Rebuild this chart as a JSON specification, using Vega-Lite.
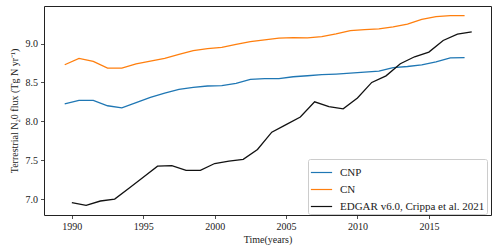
{
  "$schema": "https://vega.github.io/schema/vega-lite/v6.json",
  "autosize": "none",
  "width": 447,
  "height": 209,
  "padding": {"left": 44, "top": 6, "right": 9, "bottom": 36},
  "background": "white",
  "config": {
    "font": "Liberation Serif",
    "view": {"stroke": "#222", "strokeWidth": 1},
    "axis": {"grid": false, "domain": false, "tickColor": "#222", "tickSize": 3.5, "tickWidth": 0.8, "labelFont": "Liberation Serif", "labelFontSize": 10, "labelColor": "#222", "titleFont": "Liberation Serif", "titleFontSize": 10, "titleFontWeight": "normal", "titleColor": "#222", "labelPadding": 3}
  },
  "data": {"values": [
    {"year": 1989.5, "v": 8.223, "s": "CNP"},
    {"year": 1990.5, "v": 8.27, "s": "CNP"},
    {"year": 1991.5, "v": 8.27, "s": "CNP"},
    {"year": 1992.5, "v": 8.2, "s": "CNP"},
    {"year": 1993.5, "v": 8.172, "s": "CNP"},
    {"year": 1994.5, "v": 8.24, "s": "CNP"},
    {"year": 1995.5, "v": 8.308, "s": "CNP"},
    {"year": 1996.5, "v": 8.364, "s": "CNP"},
    {"year": 1997.5, "v": 8.41, "s": "CNP"},
    {"year": 1998.5, "v": 8.436, "s": "CNP"},
    {"year": 1999.5, "v": 8.454, "s": "CNP"},
    {"year": 2000.5, "v": 8.458, "s": "CNP"},
    {"year": 2001.5, "v": 8.487, "s": "CNP"},
    {"year": 2002.5, "v": 8.54, "s": "CNP"},
    {"year": 2003.5, "v": 8.55, "s": "CNP"},
    {"year": 2004.5, "v": 8.55, "s": "CNP"},
    {"year": 2005.5, "v": 8.573, "s": "CNP"},
    {"year": 2006.5, "v": 8.586, "s": "CNP"},
    {"year": 2007.5, "v": 8.6, "s": "CNP"},
    {"year": 2008.5, "v": 8.608, "s": "CNP"},
    {"year": 2009.5, "v": 8.62, "s": "CNP"},
    {"year": 2010.5, "v": 8.633, "s": "CNP"},
    {"year": 2011.5, "v": 8.646, "s": "CNP"},
    {"year": 2012.5, "v": 8.69, "s": "CNP"},
    {"year": 2013.5, "v": 8.705, "s": "CNP"},
    {"year": 2014.5, "v": 8.727, "s": "CNP"},
    {"year": 2015.5, "v": 8.765, "s": "CNP"},
    {"year": 2016.5, "v": 8.816, "s": "CNP"},
    {"year": 2017.5, "v": 8.82, "s": "CNP"},
    {"year": 1989.5, "v": 8.727, "s": "CN"},
    {"year": 1990.5, "v": 8.81, "s": "CN"},
    {"year": 1991.5, "v": 8.77, "s": "CN"},
    {"year": 1992.5, "v": 8.685, "s": "CN"},
    {"year": 1993.5, "v": 8.685, "s": "CN"},
    {"year": 1994.5, "v": 8.74, "s": "CN"},
    {"year": 1995.5, "v": 8.774, "s": "CN"},
    {"year": 1996.5, "v": 8.81, "s": "CN"},
    {"year": 1997.5, "v": 8.86, "s": "CN"},
    {"year": 1998.5, "v": 8.91, "s": "CN"},
    {"year": 1999.5, "v": 8.936, "s": "CN"},
    {"year": 2000.5, "v": 8.95, "s": "CN"},
    {"year": 2001.5, "v": 8.99, "s": "CN"},
    {"year": 2002.5, "v": 9.026, "s": "CN"},
    {"year": 2003.5, "v": 9.047, "s": "CN"},
    {"year": 2004.5, "v": 9.07, "s": "CN"},
    {"year": 2005.5, "v": 9.077, "s": "CN"},
    {"year": 2006.5, "v": 9.073, "s": "CN"},
    {"year": 2007.5, "v": 9.09, "s": "CN"},
    {"year": 2008.5, "v": 9.124, "s": "CN"},
    {"year": 2009.5, "v": 9.167, "s": "CN"},
    {"year": 2010.5, "v": 9.18, "s": "CN"},
    {"year": 2011.5, "v": 9.19, "s": "CN"},
    {"year": 2012.5, "v": 9.214, "s": "CN"},
    {"year": 2013.5, "v": 9.25, "s": "CN"},
    {"year": 2014.5, "v": 9.31, "s": "CN"},
    {"year": 2015.5, "v": 9.346, "s": "CN"},
    {"year": 2016.5, "v": 9.36, "s": "CN"},
    {"year": 2017.5, "v": 9.36, "s": "CN"},
    {"year": 1990, "v": 6.953, "s": "EDGAR v6.0, Crippa et al. 2021"},
    {"year": 1991, "v": 6.92, "s": "EDGAR v6.0, Crippa et al. 2021"},
    {"year": 1992, "v": 6.975, "s": "EDGAR v6.0, Crippa et al. 2021"},
    {"year": 1993, "v": 7.0, "s": "EDGAR v6.0, Crippa et al. 2021"},
    {"year": 1994, "v": 7.14, "s": "EDGAR v6.0, Crippa et al. 2021"},
    {"year": 1995, "v": 7.28, "s": "EDGAR v6.0, Crippa et al. 2021"},
    {"year": 1996, "v": 7.423, "s": "EDGAR v6.0, Crippa et al. 2021"},
    {"year": 1997, "v": 7.43, "s": "EDGAR v6.0, Crippa et al. 2021"},
    {"year": 1998, "v": 7.37, "s": "EDGAR v6.0, Crippa et al. 2021"},
    {"year": 1999, "v": 7.37, "s": "EDGAR v6.0, Crippa et al. 2021"},
    {"year": 2000, "v": 7.457, "s": "EDGAR v6.0, Crippa et al. 2021"},
    {"year": 2001, "v": 7.487, "s": "EDGAR v6.0, Crippa et al. 2021"},
    {"year": 2002, "v": 7.51, "s": "EDGAR v6.0, Crippa et al. 2021"},
    {"year": 2003, "v": 7.637, "s": "EDGAR v6.0, Crippa et al. 2021"},
    {"year": 2004, "v": 7.86, "s": "EDGAR v6.0, Crippa et al. 2021"},
    {"year": 2005, "v": 7.957, "s": "EDGAR v6.0, Crippa et al. 2021"},
    {"year": 2006, "v": 8.055, "s": "EDGAR v6.0, Crippa et al. 2021"},
    {"year": 2007, "v": 8.25, "s": "EDGAR v6.0, Crippa et al. 2021"},
    {"year": 2008, "v": 8.19, "s": "EDGAR v6.0, Crippa et al. 2021"},
    {"year": 2009, "v": 8.16, "s": "EDGAR v6.0, Crippa et al. 2021"},
    {"year": 2010, "v": 8.3, "s": "EDGAR v6.0, Crippa et al. 2021"},
    {"year": 2011, "v": 8.5, "s": "EDGAR v6.0, Crippa et al. 2021"},
    {"year": 2012, "v": 8.585, "s": "EDGAR v6.0, Crippa et al. 2021"},
    {"year": 2013, "v": 8.74, "s": "EDGAR v6.0, Crippa et al. 2021"},
    {"year": 2014, "v": 8.83, "s": "EDGAR v6.0, Crippa et al. 2021"},
    {"year": 2015, "v": 8.89, "s": "EDGAR v6.0, Crippa et al. 2021"},
    {"year": 2016, "v": 9.04, "s": "EDGAR v6.0, Crippa et al. 2021"},
    {"year": 2017, "v": 9.12, "s": "EDGAR v6.0, Crippa et al. 2021"},
    {"year": 2018, "v": 9.15, "s": "EDGAR v6.0, Crippa et al. 2021"}
  ]},
  "mark": {"type": "line", "strokeWidth": 1.3, "clip": true},
  "encoding": {
    "x": {"field": "year", "type": "quantitative", "scale": {"domain": [1988.05, 2019.35], "nice": false, "zero": false},
      "axis": {"values": [1990, 1995, 2000, 2005, 2010, 2015], "format": "d", "title": "Time(years)", "titlePadding": 3}},
    "y": {"field": "v", "type": "quantitative", "scale": {"domain": [6.795, 9.483], "nice": false, "zero": false},
      "axis": {"values": [7.0, 7.5, 8.0, 8.5, 9.0], "format": ".1f", "title": "Terrestrial N₂0 flux (Tg N yr⁻¹)", "titlePadding": 6}},
    "color": {"field": "s", "type": "nominal",
      "scale": {"domain": ["CNP", "CN", "EDGAR v6.0, Crippa et al. 2021"], "range": ["#1f77b4", "#ff7f0e", "#111111"]},
      "legend": {"title": null, "orient": "none", "legendX": 264, "legendY": 153, "direction": "vertical",
        "symbolType": "stroke", "symbolSize": 450, "symbolStrokeWidth": 1.6,
        "labelFont": "Liberation Serif", "labelFontSize": 11, "labelColor": "#222", "rowPadding": -6,
        "fillColor": "white", "strokeColor": "#cccccc", "cornerRadius": 2, "padding": 2, "labelOffset": 7, "labelLimit": 300}},
    "strokeWidth": {"field": "s", "type": "nominal", "scale": {"domain": ["CNP", "CN", "EDGAR v6.0, Crippa et al. 2021"], "range": [1.2, 1.2, 1.7]}, "legend": null}
  }
}
